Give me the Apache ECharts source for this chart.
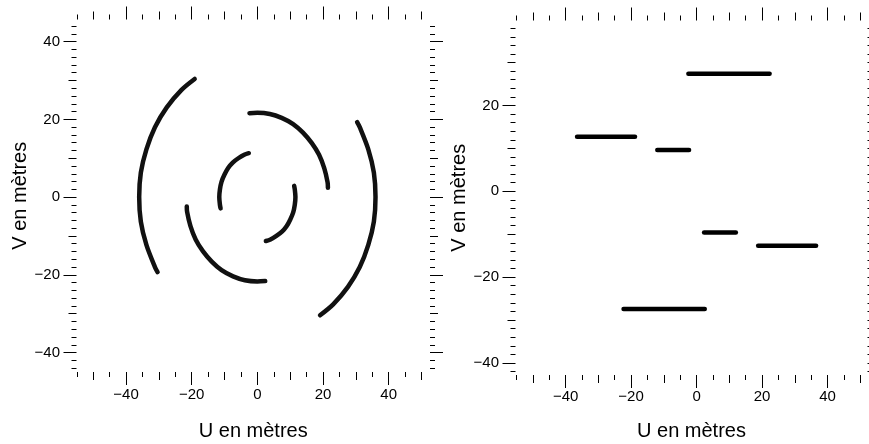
<!DOCTYPE html>
<html>
<head>
<meta charset="utf-8">
<script src="https://cdn.jsdelivr.net/npm/echarts@6/dist/echarts.min.js"></script>
<style>
html,body{margin:0;padding:0;background:#fff;}
#chart{width:869px;height:444px;}
</style>
</head>
<body>
<div id="chart"></div>
<script>
// ---- Tick values ----
const xMajorTicks = [-40, -20, 0, 20, 40];
const xMediumTicks = [-50, -30, -10, 10, 30, 50];
const xMinorTicks = [-55, -45, -35, -25, -15, -5, 5, 15, 25, 35, 45];
const yLeftMajorTicks = [-40, -20, 0, 20, 40];
const yLeftMediumTicks = [-30, -10, 10, 30];
const yLeftMinorTicks = [-44, -42, -38, -36, -34, -32, -28, -26, -24, -22, -18, -16, -14, -12, -8, -6, -4, -2,
  2, 4, 6, 8, 12, 14, 16, 18, 22, 24, 26, 28, 32, 34, 36, 38, 42, 44];
const yRightMajorTicks = [-40, -20, 0, 20];
const yRightMediumTicks = [-30, -10, 10, 30];
const yRightMinorTicks = [-42, -38, -36, -34, -32, -28, -26, -24, -22, -18, -16, -14, -12, -8, -6, -4, -2,
  2, 4, 6, 8, 12, 14, 16, 18, 22, 24, 26, 28, 32, 34, 36, 38];

// ---- Axis titles ----
const xTitle = 'U en mètres';
const yTitle = 'V en mètres';

// ---- Left panel: (u, v) tracks ----
const arcOuterLeft = [[-19.1, 30.4], [-23.1, 27.6], [-27.6, 23.1], [-31.2, 18.0], [-33.8, 12.3], [-35.5, 6.3],
  [-36.0, 0.0], [-35.5, -6.3], [-33.8, -12.3], [-31.2, -18.0], [-30.4, -19.3]];
const arcOuterRight = [[30.4, 19.3], [31.2, 18.0], [33.8, 12.3], [35.5, 6.3], [36.0, 0.0], [35.5, -6.3],
  [33.8, -12.3], [31.2, -18.0], [27.6, -23.1], [23.1, -27.6], [19.1, -30.4]];
const arcMiddleTop = [[-2.4, 21.6], [0.0, 21.7], [3.8, 21.4], [7.4, 20.4], [10.9, 18.8], [13.9, 16.6],
  [16.6, 13.9], [18.8, 10.9], [20.4, 7.4], [21.4, 3.8], [21.5, 2.4]];
const arcMiddleBottom = [[-21.5, -2.4], [-21.4, -3.8], [-20.4, -7.4], [-18.8, -10.9], [-16.6, -13.9],
  [-13.9, -16.6], [-10.9, -18.8], [-7.4, -20.4], [-3.8, -21.4], [0.0, -21.7], [2.4, -21.6]];
const arcInnerLeft = [[-2.6, 11.3], [-4.0, 10.9], [-5.8, 10.0], [-7.5, 8.9], [-8.9, 7.5], [-10.0, 5.8],
  [-10.9, 4.0], [-11.4, 2.0], [-11.6, 0.0], [-11.4, -2.0], [-11.2, -2.9]];
const arcInnerRight = [[11.2, 2.9], [11.4, 2.0], [11.6, 0.0], [11.4, -2.0], [10.9, -4.0], [10.0, -5.8],
  [8.9, -7.5], [7.5, -8.9], [5.8, -10.0], [4.0, -10.9], [2.6, -11.3]];

// ---- Right panel: (u, v) tracks ----
const segTop = [[-2.5, 27.4], [22.3, 27.4]];
const segUpperLeft = [[-36.5, 12.7], [-18.8, 12.7]];
const segUpperMid = [[-12.0, 9.6], [-2.3, 9.6]];
const segLowerMid = [[2.3, -9.6], [12.0, -9.6]];
const segLowerRight = [[18.8, -12.7], [36.5, -12.7]];
const segBottom = [[-22.3, -27.4], [2.5, -27.4]];

const FONT = '"Liberation Sans", Arial, Helvetica, sans-serif';
const minusFmt = v => (v < 0 ? '\u2212' + Math.abs(v) : String(v));

const panels = [
  { grid: { left: 76.5, top: 19.5, width: 353.5, height: 352.5 },
    xr: [-55.1, 52.6], yr: [-45.0, 45.7],
    yMajor: yLeftMajorTicks, yMedium: yLeftMediumTicks, yMinor: yLeftMinorTicks,
    xLabelMargin: 15, xNameGap: 49.5 },
  { grid: { left: 515.5, top: 20.5, width: 352, height: 354.5 },
    xr: [-55.3, 52.2], yr: [-42.8, 39.8],
    yMajor: yRightMajorTicks, yMedium: yRightMediumTicks, yMinor: yRightMinorTicks,
    xLabelMargin: 14, xNameGap: 46.5 }
];

const LONG = 13, MED = 8, SHORT = 5;
const xAxes = [], yAxes = [], grids = [];
const firstX = [], firstY = [];

panels.forEach((p, gi) => {
  grids.push(Object.assign({ containLabel: false, outerBoundsMode: 'none' }, p.grid));
  const mk = (pos, vals, len, withLabel, isX) => {
    const ax = {
      type: 'value', gridIndex: gi, position: pos,
      min: isX ? p.xr[0] : p.yr[0], max: isX ? p.xr[1] : p.yr[1],
      axisLine: { show: false, onZero: false },
      splitLine: { show: false },
      axisTick: { show: true, inside: false, length: len, customValues: vals,
        lineStyle: { color: '#000', width: 1 } },
      axisLabel: { show: withLabel, customValues: vals, formatter: minusFmt,
        margin: isX ? p.xLabelMargin : 16.5, fontSize: 15, color: '#000', fontFamily: FONT }
    };
    if (withLabel) {
      ax.name = isX ? xTitle : yTitle;
      ax.nameLocation = 'middle';
      ax.nameGap = isX ? p.xNameGap : 46;
      ax.nameTextStyle = { fontSize: 20, color: '#000', fontFamily: FONT };
    }
    return ax;
  };
  firstX.push(xAxes.length);
  xAxes.push(mk('bottom', xMajorTicks, LONG, true, true));
  xAxes.push(mk('bottom', xMediumTicks, MED, false, true));
  xAxes.push(mk('bottom', xMinorTicks, SHORT, false, true));
  xAxes.push(mk('top', xMajorTicks, LONG, false, true));
  xAxes.push(mk('top', xMediumTicks, MED, false, true));
  xAxes.push(mk('top', xMinorTicks, SHORT, false, true));
  firstY.push(yAxes.length);
  yAxes.push(mk('left', p.yMajor, LONG, true, false));
  yAxes.push(mk('left', p.yMedium, MED, false, false));
  yAxes.push(mk('left', p.yMinor, SHORT, false, false));
  yAxes.push(mk('right', p.yMajor, LONG, false, false));
  yAxes.push(mk('right', p.yMedium, MED, false, false));
  yAxes.push(mk('right', p.yMinor, SHORT, false, false));
});

const arcSeries = [arcOuterLeft, arcOuterRight, arcMiddleTop, arcMiddleBottom, arcInnerLeft, arcInnerRight]
  .map(d => ({ type: 'line', xAxisIndex: firstX[0], yAxisIndex: firstY[0], data: d,
    smooth: 0.3, showSymbol: false, lineStyle: { color: '#111', width: 4.5, cap: 'round' } }));
const segSeries = [segTop, segUpperLeft, segUpperMid, segLowerMid, segLowerRight, segBottom]
  .map(d => ({ type: 'line', xAxisIndex: firstX[1], yAxisIndex: firstY[1], data: d,
    showSymbol: false, lineStyle: { color: '#000', width: 4.5, cap: 'round' } }));

const chart = echarts.init(document.getElementById('chart'), null, { renderer: 'canvas' });
chart.setOption({
  animation: false,
  backgroundColor: '#fff',
  grid: grids,
  xAxis: xAxes,
  yAxis: yAxes,
  series: arcSeries.concat(segSeries)
});
</script>
</body>
</html>
